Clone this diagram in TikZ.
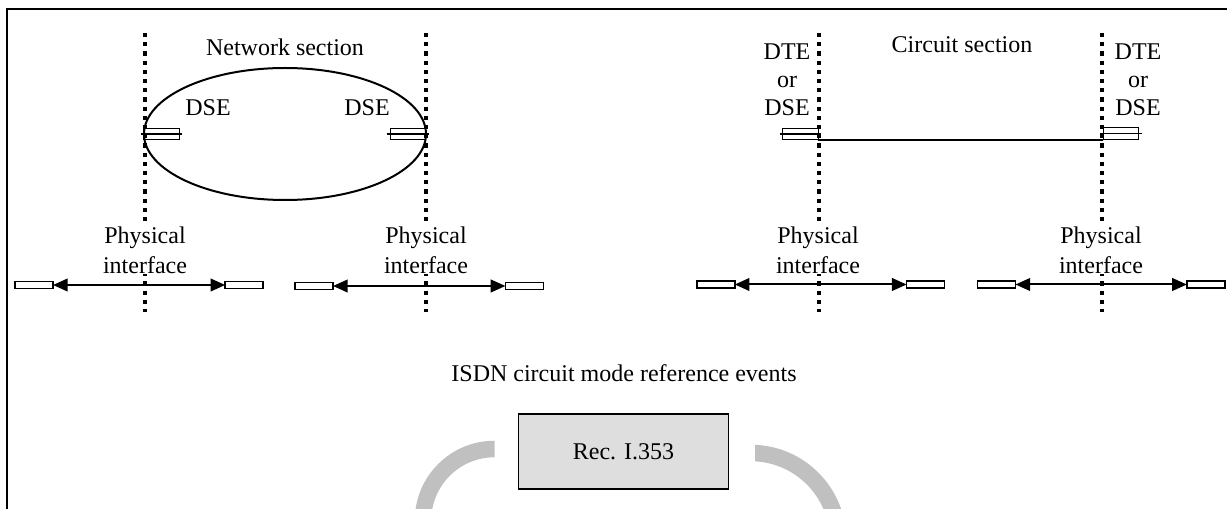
\documentclass[tikz,border=0pt]{standalone}
\usepackage{fontspec}
\setmainfont{Liberation Serif}
\usetikzlibrary{arrows.meta,shapes.geometric}
\definecolor{boxgray}{HTML}{DEDEDE}
\definecolor{arcgray}{HTML}{C0C0C0}
\begin{document}
\begin{tikzpicture}[x=0.75pt,y=-0.75pt,
  lbl/.style={font=\fontsize{18}{21}\selectfont, inner sep=0pt, align=center},
  phys/.style={font=\fontsize{18}{22.5}\selectfont, fill=white, inner sep=0.5pt, align=center},
  boundary/.style={line width=3.4pt, dash pattern=on 3.2pt off 3.7pt},
  dsebox/.style={draw, line width=0.8pt, minimum width=26.5pt, minimum height=8.5pt, inner sep=0pt, outer sep=0pt},
  port/.style={draw, fill=white, line width=1.1pt, minimum width=28.5pt, minimum height=5.5pt, inner sep=0pt, outer sep=0pt},
  link/.style={line width=1.5pt, {Triangle[length=11pt,width=9.5pt]}-{Triangle[length=11pt,width=9.5pt]}},
  cyclearc/.style={draw=arcgray, line width=12.4pt},
]
\useasboundingbox (0,0) rectangle (1227,509);

% frame (top and left edges)
\draw[line width=1.5pt] (7,509) -- (7,9.5) -- (1227,9.5);

% section boundaries
\foreach \n/\x in {b1/145, b2/426, b3/819, b4/1102} {
  \coordinate (\n top) at (\x,33);
  \coordinate (\n bot) at (\x,312);
  \draw[boundary] (\n top) -- (\n bot);
}

% network section
\node[ellipse, draw, line width=1.5pt, minimum width=211.5pt, minimum height=99pt, inner sep=0pt] (net) at (285,134) {};
\node[lbl] (netlbl) at (285,47) {Network section};
\node[lbl] (dseLlbl) at (208,108) {DSE};
\node[lbl] (dseRlbl) at (367,108) {DSE};
\node[dsebox] (dseL) at (161.5,134) {};
\node[dsebox] (dseR) at (408,134) {};
\draw[line width=0.8pt] ([xshift=-2.25pt]dseL.west) -- ([xshift=2.25pt]dseL.east);
\draw[line width=0.8pt] ([xshift=-2.25pt]dseR.west) -- ([xshift=2.25pt]dseR.east);

% circuit section
\node[lbl] (cirlbl) at (962,45) {Circuit section};
\node[lbl] (endL) at (787,80) {DTE\\or\\DSE};
\node[lbl] (endR) at (1138,80) {DTE\\or\\DSE};
\node[dsebox] (cL) at (800.5,134) {};
\node[dsebox] (cR) at (1121,133.5) {};
\draw[line width=0.8pt] ([xshift=-2.25pt]cL.west) -- ([xshift=2.25pt]cL.east);
\draw[line width=0.8pt] ([xshift=-2.25pt]cR.west) -- ([xshift=2.25pt]cR.east);
\draw[line width=1.5pt] (cL.south east) -- (cR.south west |- cL.south east);

% physical interfaces
\foreach \i/\cx/\a/\b/\y in {1/145/34/244.2/285, 2/426/314/524.4/286, 3/818/715.8/925.6/284.5, 4/1101/996.5/1205.8/284.5} {
  \node[phys] (pi\i) at (\cx,250) {Physical\\interface};
  \node[port] (pa\i) at (\a,\y) {};
  \node[port] (pb\i) at (\b,\y) {};
  \draw[link] (pa\i.east) -- (pb\i.west);
}

% reference events
\node[lbl] (isdn) at (624,373) {ISDN circuit mode reference events};
\node[draw, fill=boxgray, line width=1.2pt, minimum width=157.5pt, minimum height=56.25pt, font=\fontsize{18}{21}\selectfont] (rec) at (623.5,451.5) {Rec. I.353};

% cycle arcs around the recommendation box
\begin{scope}
  \clip (380,430) rectangle (494.7,509);
  \draw[cyclearc] (494.5,520.5) circle [radius=71.5];
\end{scope}
\begin{scope}
  \clip (755,430) rectangle (880,509);
  \draw[cyclearc] (751,540) circle [radius=87];
\end{scope}
\end{tikzpicture}
\end{document}
